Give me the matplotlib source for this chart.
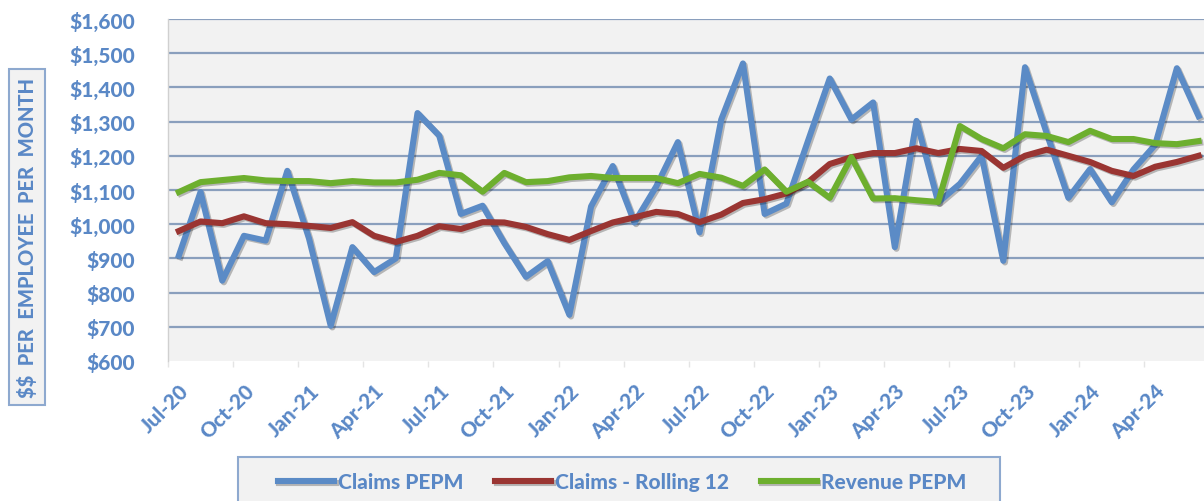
import numpy as np
import matplotlib
matplotlib.use("Agg")
import matplotlib.pyplot as plt
import matplotlib.patheffects as pe
from matplotlib.patches import Rectangle

plt.rcParams["text.parse_math"] = False

months = ["Jul-20", "Aug-20", "Sep-20", "Oct-20", "Nov-20", "Dec-20",
          "Jan-21", "Feb-21", "Mar-21", "Apr-21", "May-21", "Jun-21",
          "Jul-21", "Aug-21", "Sep-21", "Oct-21", "Nov-21", "Dec-21",
          "Jan-22", "Feb-22", "Mar-22", "Apr-22", "May-22", "Jun-22",
          "Jul-22", "Aug-22", "Sep-22", "Oct-22", "Nov-22", "Dec-22",
          "Jan-23", "Feb-23", "Mar-23", "Apr-23", "May-23", "Jun-23",
          "Jul-23", "Aug-23", "Sep-23", "Oct-23", "Nov-23", "Dec-23",
          "Jan-24", "Feb-24", "Mar-24", "Apr-24", "May-24", "Jun-24"]

claims_pepm = [908, 1094, 835, 966, 952, 1156, 958, 703, 933, 860, 900, 1325,
               1259, 1030, 1054, 945, 846, 892, 735, 1052, 1170, 1005, 1110, 1240,
               976, 1306, 1470, 1030, 1060, 1244, 1426, 1306, 1356, 933, 1302, 1064,
               1118, 1200, 893, 1459, 1266, 1077, 1161, 1064, 1160, 1232, 1456, 1316]

claims_r12 = [980, 1008, 1003, 1023, 1003, 1000, 995, 989, 1006, 966, 948, 966,
              994, 986, 1006, 1005, 992, 971, 954, 980, 1005, 1020, 1036, 1030,
              1006, 1028, 1062, 1073, 1090, 1123, 1176, 1196, 1208, 1208, 1222, 1208,
              1220, 1214, 1165, 1200, 1218, 1200, 1182, 1156, 1141, 1168, 1182, 1200]

revenue_pepm = [1094, 1123, 1129, 1135, 1128, 1126, 1126, 1120, 1126, 1122, 1122, 1130,
                1150, 1143, 1095, 1150, 1123, 1126, 1137, 1141, 1135, 1135, 1135, 1120,
                1147, 1136, 1112, 1160, 1095, 1124, 1077, 1196, 1075, 1076, 1070, 1065,
                1287, 1249, 1222, 1263, 1258, 1240, 1273, 1249, 1249, 1237, 1234, 1243]

yticks = np.arange(600, 1601, 100)
TXT = "#5A88C6"
FONT = ["Lato", "DejaVu Sans"]
W = "black"

fig = plt.figure(figsize=(12.04, 5.02), dpi=100)
ax = fig.add_axes([168 / 1204, 1 - 362 / 502, 1 - 168 / 1204, 342 / 502])
ax.set_facecolor("#F2F2F2")

x = np.arange(len(months))
shadow = [pe.SimpleLineShadow(offset=(1.2, -1.2), alpha=0.25), pe.Normal()]
ax.plot(x, claims_pepm, color="#5B8BC6", lw=4.4, label="Claims PEPM",
        path_effects=shadow, zorder=3)
ax.plot(x, claims_r12, color="#9A3532", lw=4.4, label="Claims - Rolling 12",
        path_effects=shadow, zorder=4)
ax.plot(x, revenue_pepm, color="#6DAF2E", lw=4.4, label="Revenue PEPM",
        path_effects=shadow, zorder=5)

ax.set_ylim(600, 1600)
ax.set_xlim(-0.5, 47.25)
ax.set_yticks(yticks)
ax.set_yticklabels([f"${v:,.0f}" for v in yticks])
for v in yticks[1:]:
    ax.axhline(v, color="#8A9FBD", lw=1.6, zorder=1)

ax.set_xticks(x[::3])
ax.set_xticklabels(months[::3], rotation=45, ha="right", rotation_mode="anchor")
ax.set_xticks(np.arange(-0.5, 47, 3), minor=True)
ax.tick_params(axis="x", which="major", length=0, pad=14)
ax.tick_params(axis="x", which="minor", length=4, color="#E4E4E4", width=1)
ax.tick_params(axis="y", length=0, pad=24)
for lab in ax.get_xticklabels() + ax.get_yticklabels():
    lab.set_family(FONT)
    lab.set_fontweight(W)
    lab.set_fontsize(15)
    lab.set_color(TXT)

for s in ["top", "right", "bottom"]:
    ax.spines[s].set_visible(False)
ax.spines["left"].set_color("#D0D0D0")
ax.spines["left"].set_linewidth(1)

fig.text(27 / 1204, 1 - 238 / 502, "$$  PER  EMPLOYEE  PER  MONTH", rotation=90,
         ha="center", va="center", family=FONT, fontweight=W, fontsize=14.5,
         color=TXT,
         bbox=dict(boxstyle="square,pad=0.4", fc="#F2F2F2", ec="#8EA9CF", lw=1.5))

# legend box runs off the bottom edge in the original
fig.patches.append(Rectangle((238 / 1204, -0.05), 762 / 1204, 0.05 + 44 / 502,
                             transform=fig.transFigure, fc="#F2F2F2",
                             ec="#8EA9CF", lw=1.5))
leg = fig.legend(loc="center", bbox_to_anchor=(622 / 1204, 1 - 483 / 502),
                 ncol=3, frameon=False, handlelength=2.7, borderpad=0,
                 handletextpad=0.2, columnspacing=1.5,
                 prop={"family": FONT, "weight": W, "size": 15})
for t in leg.get_texts():
    t.set_color(TXT)

fig.savefig("out.png", dpi=100)
